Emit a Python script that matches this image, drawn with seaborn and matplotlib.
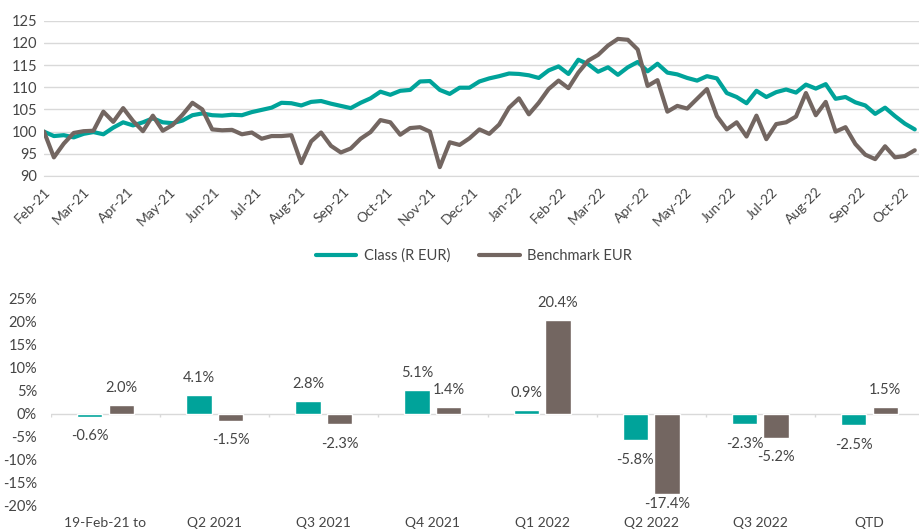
import seaborn as sns
import matplotlib.pyplot as plt
import matplotlib.dates as mdates
import numpy as np
import pandas as pd

# weekly index values, rebased to 100 on 19-Feb-21
class_vals = [100.0, 99.0, 99.2, 98.7, 99.5, 99.9, 99.4, 100.9, 102.1, 101.4,
              102.1, 103.0, 102.1, 101.9, 102.5, 103.7, 104.1, 103.7, 103.6, 103.8,
              103.7, 104.4, 104.9, 105.4, 106.5, 106.4, 105.9, 106.7, 106.9, 106.3,
              105.8, 105.3, 106.5, 107.5, 109.0, 108.3, 109.2, 109.4, 111.3, 111.4,
              109.4, 108.5, 109.9, 109.9, 111.3, 112.0, 112.5, 113.1, 113.0, 112.7,
              112.1, 113.8, 114.7, 113.0, 116.2, 115.2, 113.5, 114.5, 112.8, 114.5,
              115.7, 113.6, 115.3, 113.3, 112.9, 112.1, 111.5, 112.5, 112.0, 108.7,
              107.8, 106.4, 109.2, 107.8, 108.9, 109.5, 108.8, 110.6, 109.7, 110.7,
              107.4, 107.8, 106.6, 105.9, 104.0, 105.4, 103.5, 101.8, 100.5]
bench_vals = [100.0, 94.2, 97.3, 99.7, 100.1, 100.2, 104.5, 102.2, 105.3, 102.4,
              100.1, 103.6, 100.2, 101.5, 103.8, 106.5, 105.0, 100.5, 100.3, 100.4,
              99.4, 99.8, 98.4, 99.0, 99.0, 99.2, 92.9, 97.8, 99.8, 96.8,
              95.3, 96.2, 98.4, 99.9, 102.6, 102.1, 99.3, 100.8, 101.0, 100.0,
              92.0, 97.6, 97.0, 98.5, 100.5, 99.5, 101.6, 105.4, 107.5, 103.9,
              106.5, 109.6, 111.5, 109.8, 113.3, 116.0, 117.3, 119.4, 120.9, 120.7,
              118.5, 110.3, 111.6, 104.5, 105.8, 105.2, 107.4, 109.6, 103.5, 100.5,
              102.1, 98.9, 103.6, 98.3, 101.7, 102.1, 103.4, 108.7, 103.7, 106.7,
              100.0, 101.0, 97.2, 94.8, 93.8, 96.7, 94.2, 94.5, 95.8]
dates = pd.date_range("2021-02-19", periods=len(class_vals), freq="7D")

periods = ["19-Feb-21 to", "Q2 2021", "Q3 2021", "Q4 2021",
           "Q1 2022", "Q2 2022", "Q3 2022", "QTD"]
class_ret = [-0.6, 4.1, 2.8, 5.1, 0.9, -5.8, -2.3, -2.5]
bench_ret = [2.0, -1.5, -2.3, 1.4, 20.4, -17.4, -5.2, 1.5]

series_names = ["Class (R EUR)", "Benchmark EUR"]
TEAL = "#00a39a"
GREY = "#736661"
palette = {series_names[0]: TEAL, series_names[1]: GREY}
TXT = "#454545"
GRID = "#d9d9d9"

sns.set_style("white")
plt.rcParams["font.family"] = ["Lato", "DejaVu Sans"]
plt.rcParams["text.color"] = TXT
plt.rcParams["xtick.color"] = TXT
plt.rcParams["ytick.color"] = TXT

fig = plt.figure(figsize=(9.19, 5.31), dpi=100)
W, H = 919, 531
ax1 = fig.add_axes([44 / W, 1 - 176 / H, 1 - 44 / W, (176 - 20.7) / H])
ax2 = fig.add_axes([51 / W, 1 - 505.7 / H, 873 / W, (505.7 - 299) / H])

# ---- top: indexed performance ----
lines = pd.DataFrame({
    "Date": np.concatenate([dates, dates]),
    "Value": class_vals + bench_vals,
    "Series": [series_names[0]] * len(dates) + [series_names[1]] * len(dates),
})
sns.lineplot(data=lines, x="Date", y="Value", hue="Series", hue_order=series_names,
             palette=palette, linewidth=3, ax=ax1)
ax1.get_legend().remove()
ax1.set_xlim(dates[0], dates[-1] + pd.Timedelta(days=3))
ax1.set_ylim(90, 125)
ax1.set_yticks(np.arange(90, 126, 5))
ax1.yaxis.grid(True, color=GRID, linewidth=1)
ax1.set_axisbelow(True)
for s in ["top", "right", "left"]:
    ax1.spines[s].set_visible(False)
ax1.spines["bottom"].set_color(GRID)
ax1.xaxis.set_major_locator(mdates.MonthLocator(bymonthday=19))
ax1.xaxis.set_major_formatter(mdates.DateFormatter("%b-%y"))
ax1.tick_params(axis="x", length=4, color=GRID, labelsize=10, pad=3)
ax1.tick_params(axis="y", length=0, labelsize=10.5, pad=5)
plt.setp(ax1.get_xticklabels(), rotation=45, ha="right", rotation_mode="anchor")
ax1.set_xlabel("")
ax1.set_ylabel("")

handles, labels = ax1.get_legend_handles_labels()
fig.legend(handles, labels, loc="center", bbox_to_anchor=(474 / W, 1 - 256 / H),
           ncol=2, frameon=False, fontsize=10.5, handlelength=2.8,
           handletextpad=0.5, columnspacing=2.0)

# ---- bottom: discrete period returns ----
bars = pd.DataFrame({
    "Period": periods * 2,
    "Return": class_ret + bench_ret,
    "Series": [series_names[0]] * len(periods) + [series_names[1]] * len(periods),
})
sns.barplot(data=bars, x="Period", y="Return", hue="Series", hue_order=series_names,
            palette=palette, width=0.58, gap=0.2, saturation=1, legend=False, ax=ax2)
ax2.set_xlim(-0.5, len(periods) - 0.5)
ax2.set_ylim(-20, 25)
ax2.set_yticks(np.arange(-20, 26, 5))
ax2.set_yticklabels([f"{v}%" for v in range(-20, 26, 5)])
for s in ["top", "right", "left", "bottom"]:
    ax2.spines[s].set_visible(False)
ax2.axhline(0, color=GRID, linewidth=1, zorder=0)
ax2.vlines(np.arange(-0.5, len(periods), 1), -0.7, 0, color=GRID, linewidth=1, zorder=0)
ax2.tick_params(axis="x", length=0, labelsize=10, pad=8)
ax2.tick_params(axis="y", length=0, labelsize=10.5, pad=10)
ax2.set_xlabel("")
ax2.set_ylabel("")

# value labels just beyond the bar end, kept inside the plot floor
for cont, vals in zip(ax2.containers, [class_ret, bench_ret]):
    for bar, v in zip(cont, vals):
        x = bar.get_x() + bar.get_width() / 2
        y = v + 3.7 if v >= 0 else max(v - 4.3, -19.6)
        ax2.text(x, y, f"{v:.1f}%", ha="center", va="center", fontsize=10.5, color=TXT)

fig.savefig("out.png", dpi=100)
